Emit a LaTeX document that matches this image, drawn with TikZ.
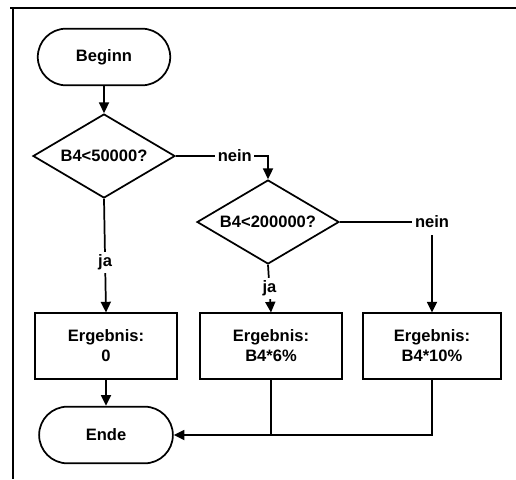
\documentclass[tikz,border=0pt]{standalone}
\usepackage{fontspec}
\setmainfont{Liberation Sans}
\usepackage{tikz}
\usetikzlibrary{shapes.geometric, shapes.misc, arrows.meta}

\begin{document}
\begin{tikzpicture}[x=0.75pt, y=-0.75pt, line width=1.3pt, > = {Triangle[length=8pt,width=7.5pt]},
	every node/.style={font=\bfseries\fontsize{12.4}{15}\selectfont},
	terminal/.style={draw, rounded rectangle, minimum width=106pt, minimum height=42.5pt},
	decision/.style={draw, diamond, aspect=1.7, inner sep=0pt, minimum width=106.5pt, minimum height=63pt},
	result/.style={draw, rectangle, align=center, minimum height=49pt},
	answer/.style={fill=white, inner sep=2pt}]
	\useasboundingbox (0,0) rectangle (516,479);
	
	% Rahmen
	\draw [line width=1pt] (10,8) -- (516,8);
	\draw [line width=1pt] (13,8) -- (13,479);
	
	% Start und Abfragen
	\node [terminal] (beginn) at (104,57) {Beginn};
	\node [decision] (d1) at (104,156) {B4<50000?};
	\node [decision] (d2) at (268,222) {B4<200000?};
	
	% Ergebnisse
	\node [result, minimum width=107pt] (e1) at (106,346) {Ergebnis:\\0};
	\node [result, minimum width=106.5pt] (e2) at (271,346) {Ergebnis:\\B4*6\%};
	\node [result, minimum width=103pt] (e3) at (432,346) {Ergebnis:\\B4*10\%};
	
	\node [terminal, minimum width=107pt] (ende) at (106,435) {Ende};
	
	% Verbindungen
	\draw [->] (beginn) -- (d1);
	\draw [->] (d1.east) -| node [answer, pos=0.32] {nein} (d2.north);
	\draw [->] (d1.south) -- node [answer, pos=0.56] {ja} (e1.north);
	\draw [->] (d2.south) -- node [answer] {ja} (e2.north);
	\draw [->] (d2.east) -| node [answer, pos=0.5, inner ysep=5pt] {nein} (e3.north);
	
	\draw [->] (e1) -- (ende);
	\draw [->] (e3.south) |- (ende.east);
	\draw (e2.south) -- (e2.south |- ende.east);
\end{tikzpicture}
\end{document}
